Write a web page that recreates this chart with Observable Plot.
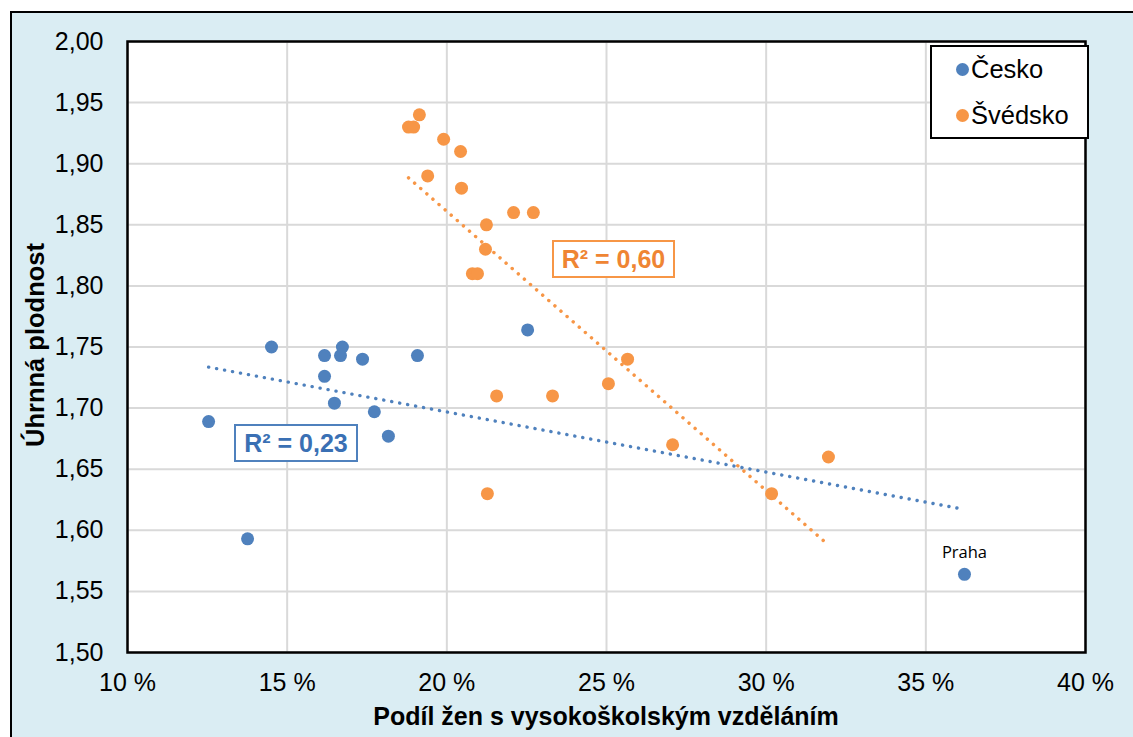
<!DOCTYPE html>
<html><head><meta charset="utf-8">
<script src="https://cdn.jsdelivr.net/npm/d3@7"></script>
<script src="https://cdn.jsdelivr.net/npm/@observablehq/plot@0.6"></script>
<style>
body{margin:0;background:#fff;font-family:"Liberation Sans",Arial,sans-serif;}
#wrap{position:relative;width:1133px;height:737px;overflow:hidden;}
#bg{position:absolute;left:10px;top:11px;width:1200px;height:800px;background:#daedf3;border:2px solid #000;}
#chart{position:absolute;left:0;top:0;}
.ov{position:absolute;white-space:nowrap;}
.r2{position:absolute;border:2px solid;background:#fff;font-weight:bold;font-size:25px;text-align:center;line-height:34px;}
#legend{position:absolute;left:930px;top:45px;width:155px;height:90px;border:2px solid #000;background:#fff;font-size:25.5px;}
#legend .it{position:absolute;left:24px;display:flex;align-items:center;}
#legend .dot{width:13px;height:13px;border-radius:50%;margin-right:2px;}
</style></head>
<body>
<div id="wrap">
<div id="bg"></div>
<div id="chart"></div>
</div>
<script>
// Česko (kraje)
const czX = [12.54, 13.76, 14.51, 16.17, 16.67, 16.73, 17.36, 16.17, 16.48, 17.73, 18.17, 19.08, 22.53, 36.21];
const czY = [1.689, 1.593, 1.750, 1.743, 1.743, 1.750, 1.740, 1.726, 1.704, 1.697, 1.677, 1.743, 1.764, 1.564];
const czLabel = ["", "", "", "", "", "", "", "", "", "", "", "", "", "Praha"];
// Švédsko (län)
const seX = [19.14, 18.80, 18.96, 19.90, 20.43, 19.40, 20.46, 22.09, 22.71, 21.24, 21.21, 20.80, 20.96, 25.66, 25.06, 21.56, 23.31, 27.07, 21.27, 30.17, 31.95];
const seY = [1.94, 1.93, 1.93, 1.92, 1.91, 1.89, 1.88, 1.86, 1.86, 1.85, 1.83, 1.81, 1.81, 1.74, 1.72, 1.71, 1.71, 1.67, 1.63, 1.63, 1.66];

const seriesNames = ["Česko", "Švédsko"];
const seriesColors = ["#4f81bd", "#f79646"];
const r2Labels = ["R² = 0,23", "R² = 0,60"];
const r2TextColors = ["#3a70b4", "#ef8533"];

const xTicks = [10, 15, 20, 25, 30, 35, 40];
const yTicks = [1.50, 1.55, 1.60, 1.65, 1.70, 1.75, 1.80, 1.85, 1.90, 1.95, 2.00];
const xTitle = "Podíl žen s vysokoškolským vzděláním";
const yTitle = "Úhrnná plodnost";

const cz = czX.map((x, i) => ({x, y: czY[i], label: czLabel[i]}));
const se = seX.map((x, i) => ({x, y: seY[i]}));

const W = 1133, H = 737;
const mL = 127, mT = 41, mR = 48, mB = 85;

const chart = Plot.plot({
  width: W, height: H,
  marginLeft: mL, marginTop: mT, marginRight: mR, marginBottom: mB,
  style: {background: "transparent", fontFamily: "'Liberation Sans', Arial, sans-serif", fontSize: "25px", overflow: "visible"},
  x: {domain: [10, 40], label: null},
  y: {domain: [1.5, 2.0], label: null},
  marks: [
    Plot.frame({fill: "white", stroke: "none"}),
    Plot.gridX(xTicks, {stroke: "#d9d9d9", strokeOpacity: 1, strokeWidth: 2}),
    Plot.gridY(yTicks, {stroke: "#d9d9d9", strokeOpacity: 1, strokeWidth: 2}),
    Plot.axisX(xTicks, {tickSize: 0, tickPadding: 21, fontSize: 25, fill: "#000", tickFormat: d => `${d} %`, label: null}),
    Plot.axisY(yTicks, {tickSize: 0, tickPadding: 24, fontSize: 25, fill: "#000", tickFormat: d => d.toFixed(2).replace(".", ","), label: null}),
    Plot.linearRegressionY(cz, {x: "x", y: "y", ci: 0, stroke: seriesColors[0], strokeWidth: 3.4, strokeDasharray: "0.1,8", strokeLinecap: "round"}),
    Plot.linearRegressionY(se, {x: "x", y: "y", ci: 0, stroke: seriesColors[1], strokeWidth: 3.4, strokeDasharray: "0.1,8", strokeLinecap: "round"}),
    Plot.dot(cz, {x: "x", y: "y", r: 6.5, fill: seriesColors[0], stroke: "none"}),
    Plot.dot(se, {x: "x", y: "y", r: 6.5, fill: seriesColors[1], stroke: "none"}),
    Plot.text(cz.filter(d => d.label), {x: "x", y: "y", text: "label", dy: -22, fontSize: 16.5, fill: "#000", fontFamily: "'Open Sans', sans-serif"}),
    Plot.frame({stroke: "#000", strokeWidth: 2.5})
  ]
});
document.getElementById("chart").appendChild(chart);

const wrap = document.getElementById("wrap");
// axis titles
const xt = document.createElement("div");
xt.className = "ov";
xt.textContent = xTitle;
xt.style.cssText += "font-weight:bold;font-size:25px;text-align:center;top:702px;";
xt.style.left = "0px";
xt.style.width = (2 * (mL + (W - mL - mR) / 2)) + "px";
wrap.appendChild(xt);

const yt = document.createElement("div");
yt.className = "ov";
yt.textContent = yTitle;
yt.style.cssText += "font-weight:bold;font-size:25.5px;left:35px;top:345px;transform:translate(-50%,-50%) rotate(-90deg);";
wrap.appendChild(yt);

// R² boxes
const r2Pos = [{left: 234, top: 424, w: 120}, {left: 552, top: 240, w: 119}];
r2Labels.forEach((t, i) => {
  const b = document.createElement("div");
  b.className = "r2";
  b.textContent = t;
  b.style.left = r2Pos[i].left + "px";
  b.style.top = r2Pos[i].top + "px";
  b.style.width = r2Pos[i].w + "px";
  b.style.borderColor = seriesColors[i];
  b.style.color = r2TextColors[i];
  wrap.appendChild(b);
});

// legend
const lg = document.createElement("div");
lg.id = "legend";
seriesNames.forEach((n, i) => {
  const it = document.createElement("div");
  it.className = "it";
  it.style.top = (i === 0 ? 8 : 54) + "px";
  const d = document.createElement("div");
  d.className = "dot";
  d.style.background = seriesColors[i];
  const s = document.createElement("span");
  s.textContent = n;
  it.appendChild(d); it.appendChild(s);
  lg.appendChild(it);
});
wrap.appendChild(lg);
</script>
</body></html>
